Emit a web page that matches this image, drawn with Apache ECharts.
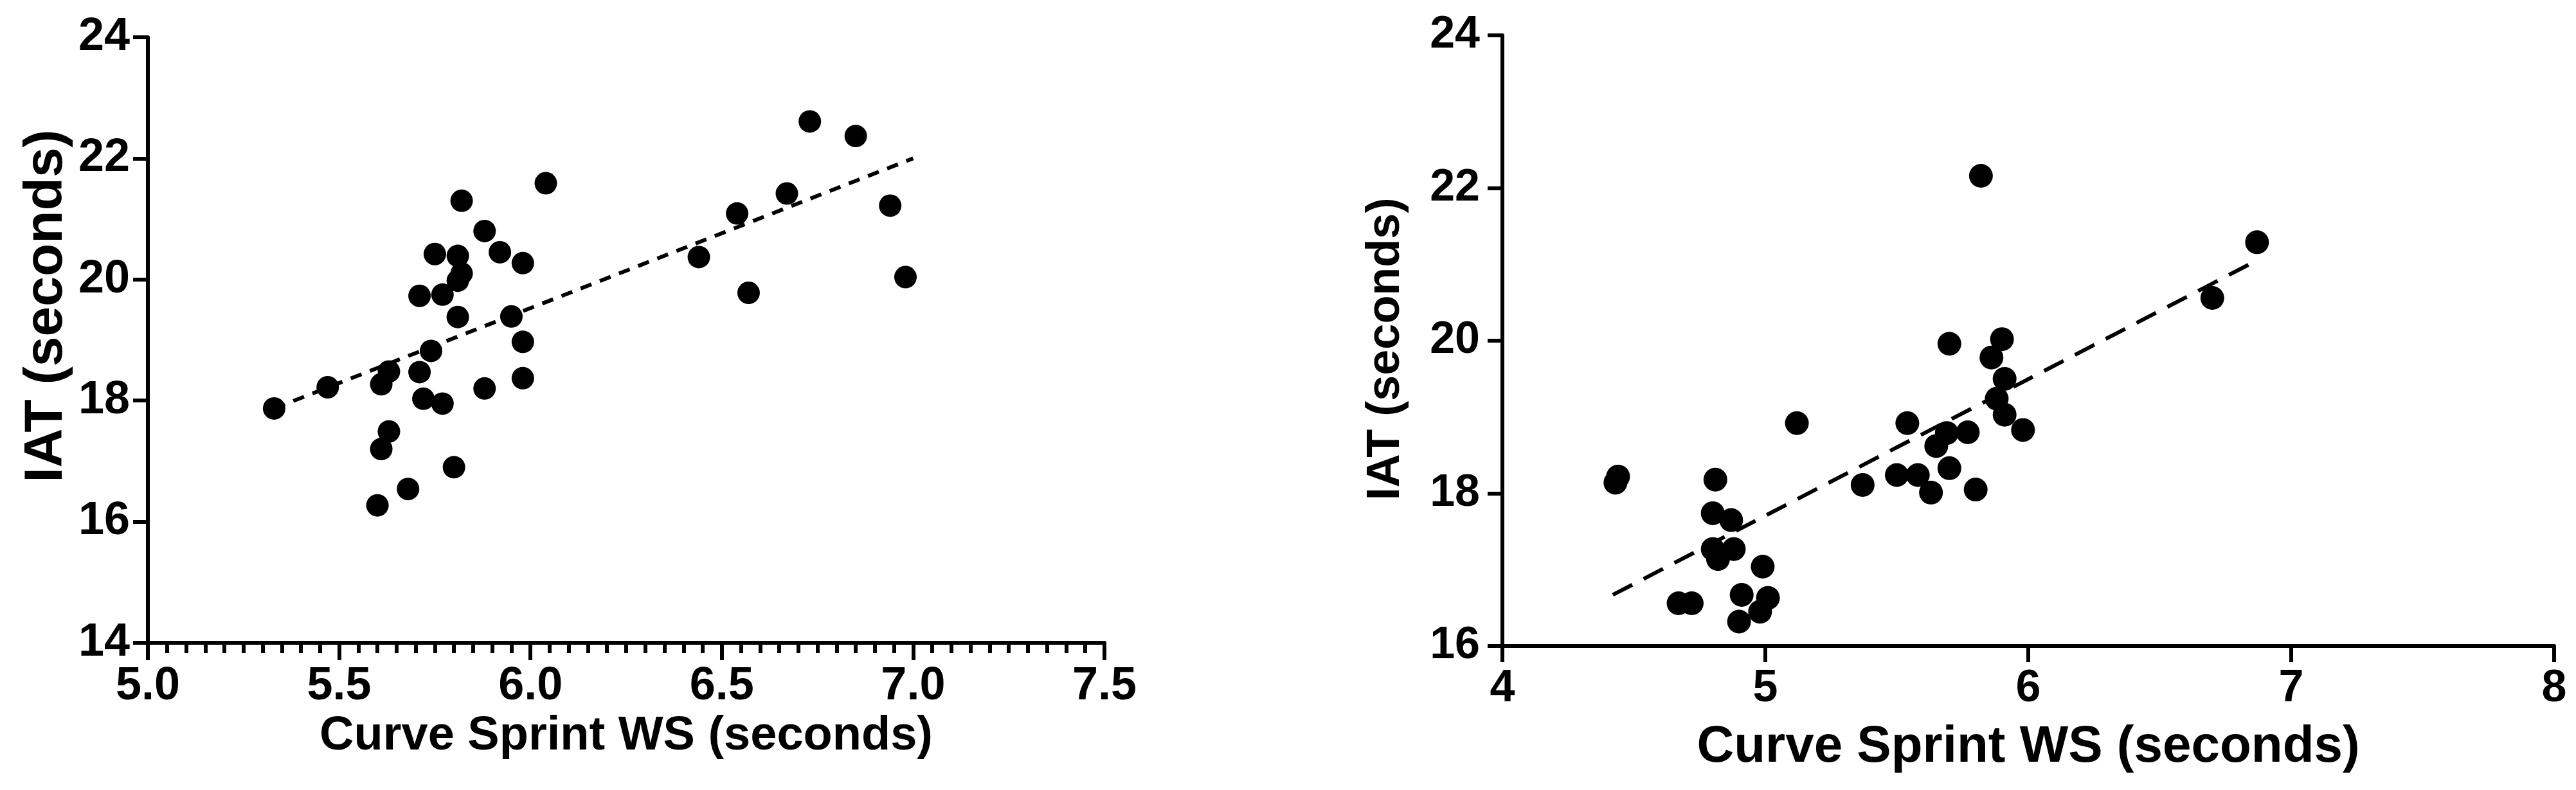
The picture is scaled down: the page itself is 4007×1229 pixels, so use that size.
<!DOCTYPE html>
<html>
<head>
<meta charset="utf-8">
<title>IAT vs Curve Sprint WS</title>
<script src="https://cdn.jsdelivr.net/npm/echarts@6/dist/echarts.min.js"></script>
<style>
  html, body { margin: 0; padding: 0; background: #fff; }
  #chart { width: 4007px; height: 1229px; }
</style>
</head>
<body>
<div id="chart"></div>
<script>
// left panel
const leftX = [5.33, 5.47, 5.61, 5.63, 5.74, 5.71, 5.72, 5.77, 5.88, 5.98, 5.98, 5.95, 5.81,
  5.71, 5.77, 5.82, 5.81, 5.81, 5.75, 5.92, 5.98, 5.88, 5.82, 6.04, 6.44, 6.57, 6.54, 6.67,
  6.73, 6.85, 6.94, 6.98, 5.63, 5.61, 5.80, 5.68, 5.60];
const leftY = [17.87, 18.22, 18.27, 18.48, 18.82, 18.47, 18.03, 17.95, 18.20, 18.37, 18.97,
  19.39, 19.38, 19.73, 19.75, 20.10, 19.98, 20.39, 20.42, 20.45, 20.27, 20.80, 21.30, 21.59,
  20.37, 19.78, 21.09, 21.42, 22.61, 22.37, 21.22, 20.04, 17.49, 17.20, 16.90, 16.54, 16.27];
const leftFitX = [5.33, 7.0];
const leftFitY = [17.87, 22.0];
const leftXTicks = [5.0, 5.5, 6.0, 6.5, 7.0, 7.5];
const leftYTicks = [14, 16, 18, 20, 22, 24];

// right panel
const rightX = [5.82, 6.87, 6.70, 5.70, 5.90, 5.86, 5.91, 5.88, 5.91, 5.98, 5.77, 5.69, 5.65,
  5.54, 5.70, 5.50, 5.58, 5.63, 5.80, 5.37, 5.12, 4.43, 4.44, 4.81, 4.80, 4.87, 4.88, 4.80,
  4.82, 4.99, 4.67, 4.72, 4.91, 5.01, 4.98, 4.90];
const rightY = [22.16, 21.29, 20.56, 19.96, 20.02, 19.78, 19.50, 19.24, 19.03, 18.83, 18.80,
  18.79, 18.62, 18.92, 18.33, 18.24, 18.24, 18.01, 18.05, 18.11, 18.92, 18.14, 18.22, 18.18,
  17.74, 17.65, 17.27, 17.27, 17.14, 17.04, 16.56, 16.56, 16.67, 16.63, 16.45, 16.32];
const rightFitX = [4.42, 6.88];
const rightFitY = [16.67, 21.07];
const rightXTicks = [4, 5, 6, 7, 8];
const rightYTicks = [16, 18, 20, 22, 24];

const xTitle = 'Curve Sprint WS (seconds)';
const yTitle = 'IAT (seconds)';

const FONT = '"Liberation Sans", Arial, sans-serif';
const pairs = (xs, ys) => xs.map((x, i) => [x, ys[i]]);

function axisBase(ticks, fontSize) {
  return {
    type: 'value',
    min: ticks[0],
    max: ticks[ticks.length - 1],
    interval: ticks[1] - ticks[0],
    splitLine: { show: false },
    axisLine: { show: true, onZero: false, lineStyle: { color: '#000', width: 6 } },
    axisTick: { show: true, length: 25, lineStyle: { color: '#000', width: 6 } },
    axisLabel: {
      color: '#000',
      fontFamily: FONT,
      fontWeight: 'bold',
      fontSize: fontSize,
    },
    nameTextStyle: {
      color: '#000',
      fontFamily: FONT,
      fontWeight: 'bold',
    },
  };
}

function chartsInit() {
  const chart = echarts.init(document.getElementById('chart'));

  const lx = axisBase(leftXTicks, 72);
  lx.gridIndex = 0;
  lx.axisLabel.margin = 32;
  lx.axisLabel.formatter = (v) => v.toFixed(1);
  lx.axisTick.length = 27;
  lx.minorTick = { show: true, splitNumber: 10, length: 16, lineStyle: { color: '#000', width: 6 } };
  lx.name = xTitle;
  lx.nameLocation = 'middle';
  lx.nameGap = 108;
  lx.nameTextStyle.fontSize = 74;

  const ly = axisBase(leftYTicks, 72);
  ly.gridIndex = 0;
  ly.axisLabel.margin = 28;
  ly.axisTick.length = 23;
  ly.name = yTitle;
  ly.nameLocation = 'middle';
  ly.nameGap = 115;
  ly.nameTextStyle.fontSize = 84;
  ly.nameTextStyle.padding = [0, 0, 0, 106];

  const rx = axisBase(rightXTicks, 70);
  rx.gridIndex = 1;
  rx.axisLabel.margin = 32;
  rx.name = xTitle;
  rx.nameLocation = 'middle';
  rx.nameGap = 118;
  rx.nameTextStyle.fontSize = 80;

  const ry = axisBase(rightYTicks, 70);
  ry.gridIndex = 1;
  ry.axisLabel.margin = 35;
  ry.axisTick.length = 23;
  ry.name = yTitle;
  ry.nameLocation = 'middle';
  ry.nameGap = 145;
  ry.nameTextStyle.fontSize = 72;
  ry.nameTextStyle.padding = [0, 26, 0, 0];

  const option = {
    backgroundColor: '#fff',
    animation: false,
    grid: [
      { left: 230, top: 58, width: 1488, height: 942 },
      { left: 2337, top: 55, width: 1636, height: 950 },
    ],
    xAxis: [lx, rx],
    yAxis: [ly, ry],
    series: [
      {
        type: 'scatter',
        xAxisIndex: 0,
        yAxisIndex: 0,
        symbol: 'circle',
        symbolSize: 35,
        itemStyle: { color: '#000', opacity: 1 },
        data: pairs(leftX, leftY),
      },
      {
        type: 'line',
        xAxisIndex: 0,
        yAxisIndex: 0,
        symbol: 'none',
        lineStyle: { color: '#000', width: 6, type: [18, 14] },
        data: pairs(leftFitX, leftFitY),
      },
      {
        type: 'scatter',
        xAxisIndex: 1,
        yAxisIndex: 1,
        symbol: 'circle',
        symbolSize: 37,
        itemStyle: { color: '#000', opacity: 1 },
        data: pairs(rightX, rightY),
      },
      {
        type: 'line',
        xAxisIndex: 1,
        yAxisIndex: 1,
        symbol: 'none',
        lineStyle: { color: '#000', width: 6, type: [34, 20] },
        data: pairs(rightFitX, rightFitY),
      },
    ],
  };
  chart.setOption(option);
}

chartsInit();
</script>
</body>
</html>
